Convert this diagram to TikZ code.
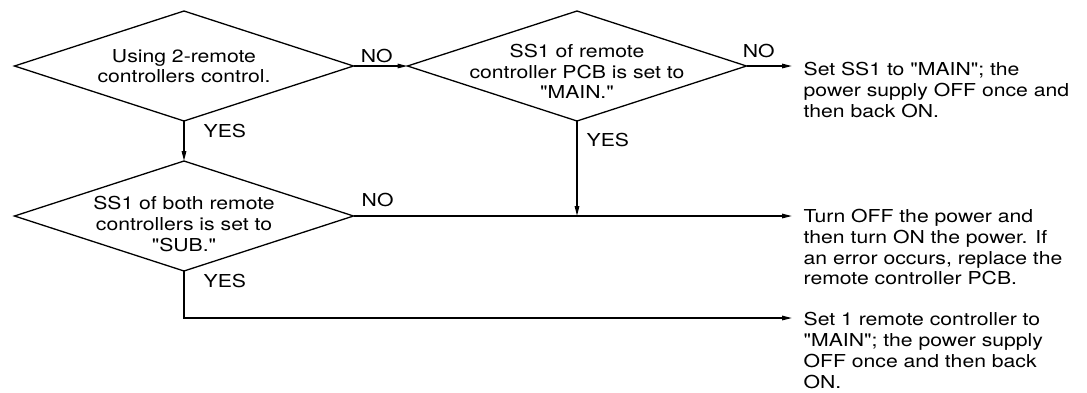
\documentclass[tikz,border=0pt]{standalone}
\usepackage{fontspec}
\setmainfont{TeX Gyre Heros}[FakeStretch=1.19, Ligatures=TeXOff]
\usetikzlibrary{positioning,arrows.meta,calc,shapes.geometric}

\begin{document}
\begin{tikzpicture}[x=1pt, y=-1pt,
      font=\fontsize{17.8}{20.7}\selectfont,
      line width=1.3pt,
      decision/.style={draw, diamond, minimum width=339pt, minimum height=110pt, inner sep=0pt, outer sep=0pt},
      qtext/.style={align=center, inner sep=0pt},
      res/.style={anchor=north west, align=left, inner xsep=11pt, inner ysep=0pt},
      lab/.style={inner sep=0pt},
      arr/.style={-{Triangle[length=10pt, width=4.5pt]}}]
    \useasboundingbox (0,0) rectangle (1087,392);
    % decisions
    \node[decision] (d1) at (184,66) {};
    \node[decision, right=54pt of d1] (d2) {};
    \node[decision, below=40pt of d1] (d3) {};
    \node[qtext] (q1) at (d1) {Using 2-remote\\controllers control.};
    \node[qtext] (q2) at ($(d2)+(0,5.5)$) {SS1 of remote\\controller PCB is set to\\"MAIN."};
    \node[qtext] (q3) at ($(d3)+(0,8)$) {SS1 of both remote\\controllers is set to\\"SUB."};
    % results
    \node[res] (r1) at (792,62) {Set SS1 to "MAIN"; the\\power supply OFF once and\\then back ON.};
    \node[res] (r2) at (792,208.7) {Turn OFF the power and\\then turn ON the power. If\\an error occurs, replace the\\remote controller PCB.};
    \node[res] (r3) at (792,312) {Set 1 remote controller to\\"MAIN"; the power supply\\OFF once and then back\\ON.};
    % connectors
    \draw[arr] (d1.east) -- node[lab, pos=0.43, above=3pt] {NO} (d2.west);
    \draw[arr] (d2.east) -- node[lab, pos=0.27, above=8pt] {NO} (d2.east -| r1.west);
    \draw[arr] (d1.south) -- node[lab, pos=0.25, right=19pt] {YES} (d3.north);
    \draw[arr] (d2.south) -- node[lab, pos=0.2, right=9pt] {YES} (d2.south |- d3.east);
    \draw[arr] (d3.east) -- node[lab, pos=0.055, above=8.5pt] {NO} (d3.east -| r2.west);
    \draw[arr] (d3.south) |- node[lab, pos=0.105, right=19pt] {YES} ($(r3.north west)+(0,6)$);
  \end{tikzpicture}
\end{document}
